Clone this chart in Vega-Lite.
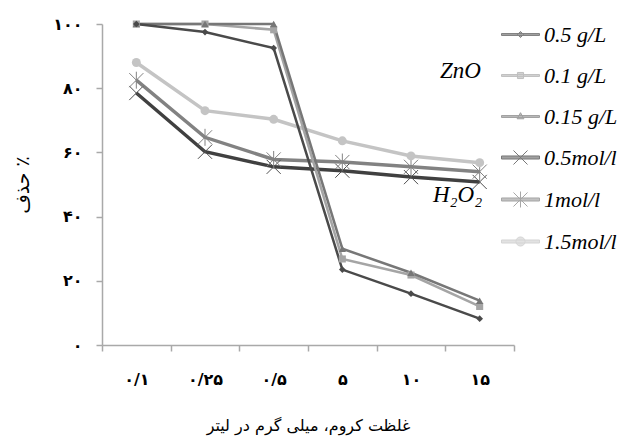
{
  "$schema": "https://vega.github.io/schema/vega-lite/v6.json",
  "width": 412,
  "height": 321,
  "autosize": {"type": "none"},
  "padding": {"left": 102, "top": 24, "right": 119, "bottom": 94},
  "background": "white",
  "config": {
    "view": {"stroke": null},
    "axis": {
      "domainColor": "#a9a9a9",
      "tickColor": "#a9a9a9",
      "domainWidth": 1.5,
      "tickWidth": 1.5,
      "tickSize": 6,
      "grid": false,
      "labelColor": "black",
      "titleColor": "black",
      "labelFont": "DejaVu Sans",
      "labelFontWeight": "bold",
      "titleFont": "DejaVu Sans",
      "titleFontWeight": "normal",
      "titleFontSize": 16
    }
  },
  "data": {
    "values": [
      {"c": "۰/۱", "g": "ZnO", "s": "0.5 g/L", "v": 100},
      {"c": "۰/۲۵", "g": "ZnO", "s": "0.5 g/L", "v": 97.5},
      {"c": "۰/۵", "g": "ZnO", "s": "0.5 g/L", "v": 92.5},
      {"c": "۵", "g": "ZnO", "s": "0.5 g/L", "v": 23.5},
      {"c": "۱۰", "g": "ZnO", "s": "0.5 g/L", "v": 16},
      {"c": "۱۵", "g": "ZnO", "s": "0.5 g/L", "v": 8.2},
      {"c": "۰/۱", "g": "ZnO", "s": "0.1 g/L", "v": 100},
      {"c": "۰/۲۵", "g": "ZnO", "s": "0.1 g/L", "v": 100},
      {"c": "۰/۵", "g": "ZnO", "s": "0.1 g/L", "v": 98.2},
      {"c": "۵", "g": "ZnO", "s": "0.1 g/L", "v": 26.8},
      {"c": "۱۰", "g": "ZnO", "s": "0.1 g/L", "v": 21.8},
      {"c": "۱۵", "g": "ZnO", "s": "0.1 g/L", "v": 12},
      {"c": "۰/۱", "g": "ZnO", "s": "0.15 g/L", "v": 100},
      {"c": "۰/۲۵", "g": "ZnO", "s": "0.15 g/L", "v": 100},
      {"c": "۰/۵", "g": "ZnO", "s": "0.15 g/L", "v": 100},
      {"c": "۵", "g": "ZnO", "s": "0.15 g/L", "v": 30},
      {"c": "۱۰", "g": "ZnO", "s": "0.15 g/L", "v": 22.5},
      {"c": "۱۵", "g": "ZnO", "s": "0.15 g/L", "v": 13.8},
      {"c": "۰/۱", "g": "H2O2", "s": "0.5mol/l", "v": 78.5},
      {"c": "۰/۲۵", "g": "H2O2", "s": "0.5mol/l", "v": 60.2},
      {"c": "۰/۵", "g": "H2O2", "s": "0.5mol/l", "v": 55.5},
      {"c": "۵", "g": "H2O2", "s": "0.5mol/l", "v": 54.3},
      {"c": "۱۰", "g": "H2O2", "s": "0.5mol/l", "v": 52.3},
      {"c": "۱۵", "g": "H2O2", "s": "0.5mol/l", "v": 50.8},
      {"c": "۰/۱", "g": "H2O2", "s": "1mol/l", "v": 82.5},
      {"c": "۰/۲۵", "g": "H2O2", "s": "1mol/l", "v": 64.7},
      {"c": "۰/۵", "g": "H2O2", "s": "1mol/l", "v": 57.8},
      {"c": "۵", "g": "H2O2", "s": "1mol/l", "v": 57},
      {"c": "۱۰", "g": "H2O2", "s": "1mol/l", "v": 55.5},
      {"c": "۱۵", "g": "H2O2", "s": "1mol/l", "v": 54},
      {"c": "۰/۱", "g": "H2O2", "s": "1.5mol/l", "v": 88},
      {"c": "۰/۲۵", "g": "H2O2", "s": "1.5mol/l", "v": 73},
      {"c": "۰/۵", "g": "H2O2", "s": "1.5mol/l", "v": 70.3},
      {"c": "۵", "g": "H2O2", "s": "1.5mol/l", "v": 63.6},
      {"c": "۱۰", "g": "H2O2", "s": "1.5mol/l", "v": 58.9},
      {"c": "۱۵", "g": "H2O2", "s": "1.5mol/l", "v": 56.8}
    ]
  },
  "encoding": {
    "x": {
      "field": "c",
      "type": "ordinal",
      "sort": ["۰/۱", "۰/۲۵", "۰/۵", "۵", "۱۰", "۱۵"],
      "bandPosition": 0.5,
      "scale": {"type": "band", "paddingInner": 0, "paddingOuter": 0},
      "title": "غلظت کروم، میلی گرم در لیتر",
      "axis": {
        "tickBand": "extent",
        "labelAngle": 0,
        "labelFontSize": 16,
        "labelPadding": 20,
        "titlePadding": 30
      }
    },
    "y": {
      "field": "v",
      "type": "quantitative",
      "scale": {"domain": [0, 100]},
      "title": "حذف ٪",
      "axis": {
        "values": [0, 20, 40, 60, 80, 100],
        "labelExpr": "{'0': '۰', '20': '۲۰', '40': '۴۰', '60': '۶۰', '80': '۸۰', '100': '۱۰۰'}[datum.label]",
        "labelFontSize": 16,
        "labelPadding": 14,
        "titleFontSize": 19,
        "titlePadding": 20
      }
    }
  },
  "layer": [
    {"transform": [{"filter": "datum.s == '0.5mol/l'"}], "mark": {"type": "line", "color": "#404040", "strokeWidth": 3.5}},
    {"transform": [{"filter": "datum.s == '1mol/l'"}], "mark": {"type": "line", "color": "#828282", "strokeWidth": 3.5}},
    {"transform": [{"filter": "datum.s == '1.5mol/l'"}], "mark": {"type": "line", "color": "#c4c4c4", "strokeWidth": 3.5}},
    {"transform": [{"filter": "datum.s == '0.5mol/l'"}], "mark": {"type": "point", "shape": "M-1,-1L1,1M1,-1L-1,1", "filled": false, "size": 200, "strokeWidth": 1, "color": "#505050", "opacity": 1}},
    {"transform": [{"filter": "datum.s == '1mol/l'"}], "mark": {"type": "point", "shape": "M-1,-1L1,1M1,-1L-1,1M0,-1.2V1.2", "filled": false, "size": 200, "strokeWidth": 1, "color": "#828282", "opacity": 1}},
    {"transform": [{"filter": "datum.s == '1.5mol/l'"}], "mark": {"type": "point", "shape": "circle", "filled": true, "size": 80, "color": "#c4c4c4", "opacity": 1}},
    {"transform": [{"filter": "datum.s == '0.1 g/L'"}], "mark": {"type": "line", "color": "#a5a5a5", "strokeWidth": 2.5}},
    {"transform": [{"filter": "datum.s == '0.15 g/L'"}], "mark": {"type": "line", "color": "#777777", "strokeWidth": 2.5}},
    {"transform": [{"filter": "datum.s == '0.5 g/L'"}], "mark": {"type": "line", "color": "#4a4a4a", "strokeWidth": 2.5}},
    {"transform": [{"filter": "datum.s == '0.1 g/L'"}], "mark": {"type": "point", "shape": "square", "filled": true, "size": 50, "color": "#a5a5a5", "opacity": 1}},
    {"transform": [{"filter": "datum.s == '0.15 g/L'"}], "mark": {"type": "point", "shape": "triangle-up", "filled": true, "size": 55, "color": "#777777", "opacity": 1}},
    {"transform": [{"filter": "datum.s == '0.5 g/L'"}], "mark": {"type": "point", "shape": "diamond", "filled": true, "size": 45, "color": "#4a4a4a", "opacity": 1}},
    {
      "data": {"values": []},
      "mark": {"type": "point", "filled": true},
      "encoding": {
        "fill": {"field": "s", "type": "nominal", "scale": {"domain": ["0.5 g/L", "0.1 g/L", "0.15 g/L"], "range": ["#4a4a4a", "#a5a5a5", "#777777"]},
          "legend": {"title": "ZnO", "orient": "none", "legendX": 338, "legendY": -9, "titleOrient": "left", "titleAnchor": "middle", "titleBaseline": "middle", "titlePadding": 20, "symbolSize": 1444, "symbolStrokeWidth": 1, "rowPadding": 10, "labelOffset": 4, "labelFont": "Liberation Serif", "labelFontStyle": "italic", "labelFontSize": 22, "labelColor": "black", "titleFont": "Liberation Serif", "titleFontStyle": "italic", "titleFontWeight": "normal", "titleFontSize": 23, "titleColor": "black", "padding": 0}},
        "stroke": {"field": "s", "type": "nominal", "scale": {"domain": ["0.5 g/L", "0.1 g/L", "0.15 g/L"], "range": ["#4a4a4a", "#a5a5a5", "#777777"]},
          "legend": {"title": "ZnO", "orient": "none", "legendX": 338, "legendY": -9, "titleOrient": "left", "titleAnchor": "middle", "titleBaseline": "middle", "titlePadding": 20, "symbolSize": 1444, "symbolStrokeWidth": 1, "rowPadding": 10, "labelOffset": 4, "labelFont": "Liberation Serif", "labelFontStyle": "italic", "labelFontSize": 22, "labelColor": "black", "titleFont": "Liberation Serif", "titleFontStyle": "italic", "titleFontWeight": "normal", "titleFontSize": 23, "titleColor": "black", "padding": 0}},
        "shape": {"field": "s", "type": "nominal", "scale": {"domain": ["0.5 g/L", "0.1 g/L", "0.15 g/L"], "range": [
            "M-1,-0.05H1V0.05H-1Z M0,-0.16L0.16,0L0,0.16L-0.16,0Z",
            "M-1,-0.05H1V0.05H-1Z M-0.16,-0.16H0.16V0.16H-0.16Z",
            "M-1,-0.05H1V0.05H-1Z M0,-0.2L0.18,0.12L-0.18,0.12Z"
          ]},
          "legend": {"title": "ZnO", "orient": "none", "legendX": 338, "legendY": -9, "titleOrient": "left", "titleAnchor": "middle", "titleBaseline": "middle", "titlePadding": 20, "symbolSize": 1444, "symbolStrokeWidth": 1, "rowPadding": 10, "labelOffset": 4, "labelFont": "Liberation Serif", "labelFontStyle": "italic", "labelFontSize": 22, "labelColor": "black", "titleFont": "Liberation Serif", "titleFontStyle": "italic", "titleFontWeight": "normal", "titleFontSize": 23, "titleColor": "black", "padding": 0}}
      }
    },
    {
      "data": {"values": []},
      "mark": {"type": "point", "filled": true},
      "encoding": {
        "fill": {"field": "s", "type": "nominal", "scale": {"domain": ["0.5mol/l", "1mol/l", "1.5mol/l"], "range": ["#404040", "#828282", "#c4c4c4"]},
          "legend": {"title": "H₂O₂", "orient": "none", "legendX": 331, "legendY": 114, "titleOrient": "left", "titleAnchor": "middle", "titleBaseline": "middle", "titlePadding": 18, "symbolSize": 1444, "symbolStrokeWidth": 1, "rowPadding": 11, "labelOffset": 4, "labelFont": "Liberation Serif", "labelFontStyle": "italic", "labelFontSize": 22, "labelColor": "black", "titleFont": "Liberation Serif", "titleFontStyle": "italic", "titleFontWeight": "normal", "titleFontSize": 23, "titleColor": "black", "padding": 0}},
        "stroke": {"field": "s", "type": "nominal", "scale": {"domain": ["0.5mol/l", "1mol/l", "1.5mol/l"], "range": ["#404040", "#828282", "#c4c4c4"]},
          "legend": {"title": "H₂O₂", "orient": "none", "legendX": 331, "legendY": 114, "titleOrient": "left", "titleAnchor": "middle", "titleBaseline": "middle", "titlePadding": 18, "symbolSize": 1444, "symbolStrokeWidth": 1, "rowPadding": 11, "labelOffset": 4, "labelFont": "Liberation Serif", "labelFontStyle": "italic", "labelFontSize": 22, "labelColor": "black", "titleFont": "Liberation Serif", "titleFontStyle": "italic", "titleFontWeight": "normal", "titleFontSize": 23, "titleColor": "black", "padding": 0}},
        "shape": {"field": "s", "type": "nominal", "scale": {"domain": ["0.5mol/l", "1mol/l", "1.5mol/l"], "range": [
            "M-1,-0.08H1V0.08H-1Z M-0.37,-0.37L0.37,0.37M0.37,-0.37L-0.37,0.37",
            "M-1,-0.08H1V0.08H-1Z M-0.37,-0.37L0.37,0.37M0.37,-0.37L-0.37,0.37M0,-0.42V0.42",
            "M-1,-0.08H1V0.08H-1Z M-0.24,0A0.24,0.24 0 1,1 0.24,0A0.24,0.24 0 1,1 -0.24,0Z"
          ]},
          "legend": {"title": "H₂O₂", "orient": "none", "legendX": 331, "legendY": 114, "titleOrient": "left", "titleAnchor": "middle", "titleBaseline": "middle", "titlePadding": 18, "symbolSize": 1444, "symbolStrokeWidth": 1, "rowPadding": 11, "labelOffset": 4, "labelFont": "Liberation Serif", "labelFontStyle": "italic", "labelFontSize": 22, "labelColor": "black", "titleFont": "Liberation Serif", "titleFontStyle": "italic", "titleFontWeight": "normal", "titleFontSize": 23, "titleColor": "black", "padding": 0}}
      }
    }
  ],
  "resolve": {"scale": {"fill": "independent", "stroke": "independent", "shape": "independent"}}
}
